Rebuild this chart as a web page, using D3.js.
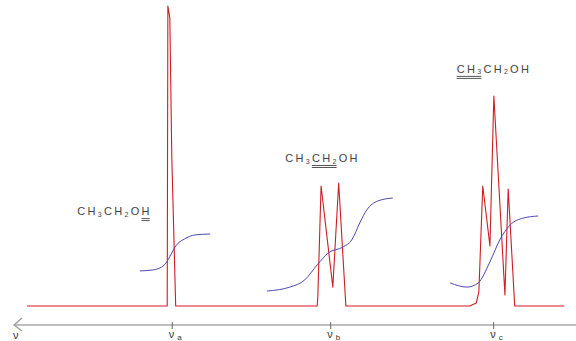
<!DOCTYPE html>
<html>
<head>
<meta charset="utf-8">
<script src="https://cdn.jsdelivr.net/npm/d3@7"></script>
<style>
  body { margin: 0; background: #fff; }
  svg { display: block; }
  .lbl { font-family: "Liberation Sans", Arial, sans-serif; font-size: 11px; fill: #444; letter-spacing: 2.3px; }
  .tick-lbl { font-family: "Liberation Sans", Arial, sans-serif; font-size: 11px; fill: #333; }
</style>
</head>
<body>
<div id="chart"></div>
<script>
// spectrum trace (chemical shift in ppm, intensity)
const specShift = [8.35, 6.20, 6.19, 6.16, 6.13, 6.07, 3.90, 3.89, 3.84, 3.66, 3.57, 3.46, 1.56, 1.46, 1.42, 1.36, 1.25, 1.19, 1.02, 0.97, 0.87, 0.11]
const specInt   = [0,    0,    100,  96,   50,   0,    0,    3,    40,   6.3,  41,   0,    0,    1,    4.7,  40,   20,   70,   3.7,  39,   0,    0]

// integral curves
const intA_shift = [6.62, 6.43, 6.31, 6.22, 6.14, 6.07, 5.94, 5.77, 5.54]
const intA_val   = [11.7, 12,   12.7, 14.3, 17.3, 20,   22.3, 23.7, 24]
const intB_shift = [4.67, 4.32, 4.09, 3.90, 3.73, 3.50, 3.37, 3.24, 3.14, 2.97, 2.74]
const intB_val   = [5,    6.3,  8.7,  13.7, 17.7, 19.7, 22,   28,   32,   35,   36]
const intC_shift = [1.86, 1.60, 1.43, 1.25, 1.10, 0.94, 0.74, 0.51]
const intC_val   = [7.7,  6.3,  7.7,  14.7, 22,   27,   29.3, 30]

// axis ticks
const tickShift = [6.13, 3.70, 1.20]
const tickSub   = ['a', 'b', 'c']

// group labels: which characters are underlined (index range in "CH3CH2OH")
const labelShift = [7.58, 4.39, 1.76]
const labelInt   = [30.3, 48, 77.7]
const labelMark  = [[7, 7], [3, 5], [0, 2]]

const width = 576, height = 341

const svg = d3.select('#chart').append('svg')
  .attr('width', width)
  .attr('height', height)

const x = d3.scaleLinear().domain([8.55, -0.07]).range([14, 576])
const y = d3.scaleLinear().domain([0, 100]).range([306, 6])

const zip = (a, b) => a.map((v, i) => [v, b[i]])

// axis
const axisY = 325
const axis = svg.append('g')
  .attr('transform', `translate(0,${axisY})`)
  .call(d3.axisBottom(x).tickValues(tickShift).tickSize(4).tickFormat(''))
axis.select('.domain').attr('stroke', '#aaa').attr('stroke-width', 1.5).attr('d', `M${x.range()[0]},0H${x.range()[1]}`)
axis.selectAll('.tick line').attr('stroke', '#666').attr('y1', -3).attr('y2', 4)

// left arrow head
svg.append('path')
  .attr('d', `M${x.range()[0] + 8},${axisY - 7}L${x.range()[0]},${axisY}L${x.range()[0] + 8},${axisY + 6}`)
  .attr('fill', 'none').attr('stroke', '#999').attr('stroke-width', 1.2)

// ν labels
svg.append('text').attr('class', 'tick-lbl')
  .attr('x', x.range()[0] - 1).attr('y', axisY + 14).text('ν')
tickShift.forEach((s, i) => {
  const t = svg.append('text').attr('class', 'tick-lbl')
    .attr('x', x(s) - 3).attr('y', axisY + 13)
  t.append('tspan').text('ν')
  t.append('tspan').attr('dx', 3).attr('dy', 2).attr('font-size', '8px').text(tickSub[i])
})

// spectrum
const line = d3.line().x(d => x(d[0])).y(d => y(d[1]))
svg.append('path')
  .datum(zip(specShift, specInt))
  .attr('d', line)
  .attr('fill', 'none')
  .attr('stroke', '#d01c24')
  .attr('stroke-width', 1.1)
  .attr('stroke-linejoin', 'round')

// integrals
const curve = d3.line().x(d => x(d[0])).y(d => y(d[1])).curve(d3.curveMonotoneX)
;[[intA_shift, intA_val], [intB_shift, intB_val], [intC_shift, intC_val]].forEach(([s, v]) => {
  svg.append('path')
    .datum(zip(s, v).reverse())
    .attr('d', curve)
    .attr('fill', 'none')
    .attr('stroke', '#4a4ab0')
    .attr('stroke-width', 1)
})

// group labels
labelShift.forEach((s, i) => {
  const t = svg.append('text').attr('class', 'lbl')
    .attr('x', x(s)).attr('y', y(labelInt[i]))
  t.append('tspan').text('CH')
  t.append('tspan').attr('dy', 1.5).attr('font-size', '7px').text('3')
  t.append('tspan').attr('dy', -1.5).text('CH')
  t.append('tspan').attr('dy', 1.5).attr('font-size', '7px').text('2')
  t.append('tspan').attr('dy', -1.5).text('OH')
  const node = t.node()
  const [a, b] = labelMark[i]
  const x0 = node.getStartPositionOfChar(a).x
  const x1 = node.getEndPositionOfChar(b).x - 2
  const yb = y(labelInt[i])
  ;[3.5, 5.5].forEach(off => {
    svg.append('line')
      .attr('x1', x0).attr('x2', x1)
      .attr('y1', yb + off).attr('y2', yb + off)
      .attr('stroke', '#555').attr('stroke-width', 1)
  })
})
</script>
</body>
</html>
